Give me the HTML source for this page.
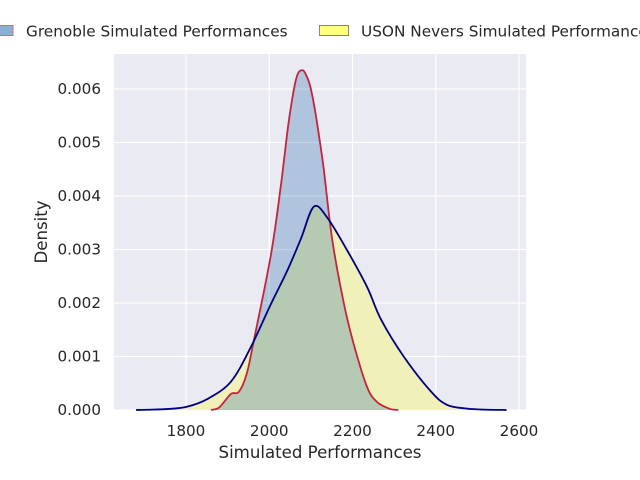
<!DOCTYPE html>
<html><head><meta charset="utf-8"><style>
html,body{margin:0;padding:0;background:#fff;overflow:hidden}
svg{display:block;font-family:"DejaVu Sans","Liberation Sans",sans-serif}
</style></head><body>
<svg id="chart" width="640" height="480">
<rect x="114" y="54" width="412" height="356" fill="#eaeaf2"/>
<g id="grid"></g>
<g id="series"></g>
<g id="ticks" fill="#262626" font-size="15.2"></g>
<text x="320" y="458" text-anchor="middle" font-size="16.6" fill="#262626">Simulated Performances</text>
<text transform="translate(47,232) rotate(-90)" text-anchor="middle" font-size="16.6" fill="#262626">Density</text>
<g>
<g>
<rect x="-16" y="25.5" width="29" height="10" fill="#8eaed6" stroke="#d9667a" stroke-width="1"/>
<text x="26" y="36.5" font-size="15.3" fill="#262626">Grenoble Simulated Performances</text></g>
<g>
<rect x="319.5" y="25.5" width="29" height="10" fill="#ffff80" stroke="#8080a0" stroke-width="1"/>
<text x="361" y="36.5" font-size="15.3" fill="#262626">USON Nevers Simulated Performances</text></g>
</g>
</svg>
<script>
const xTicks=[1800,2000,2200,2400,2600];
const yTicks=[0,0.001,0.002,0.003,0.004,0.005,0.006];
const yTickLabels=["0.000","0.001","0.002","0.003","0.004","0.005","0.006"];
const grenX=[1860,1880,1908,1927,1946,1963,2004,2028,2047,2065,2080,2092,2100,2110,2120,2131,2151,2179,2203,2235,2259,2290,2310];
const grenY=[0,0.00005,0.0003,0.00034,0.00068,0.0013,0.0029,0.0042,0.0054,0.0062,0.00635,0.0062,0.006,0.0056,0.0051,0.0045,0.0032,0.002,0.00123,0.00043,0.00015,0.00002,0];
const usonX=[1680,1706,1760,1802,1850,1908,1956,2004,2043,2076,2107,2139,2186,2235,2268,2323,2388,2426,2470,2508,2570];
const usonY=[0,0.000005,0.00002,0.00006,0.0002,0.00053,0.00118,0.00198,0.0026,0.0032,0.0038,0.0036,0.003,0.0023,0.0017,0.001,0.00035,0.0001,0.00003,0.00001,0];
const X=v=>186+(v-1800)*83.25/200;
const Y=v=>410-v*53.5/0.001;
const NS="http://www.w3.org/2000/svg";
const grid=document.getElementById('grid'),ticks=document.getElementById('ticks'),series=document.getElementById('series');
function mk(tag,attrs,parent){const e=document.createElementNS(NS,tag);for(const k in attrs)e.setAttribute(k,attrs[k]);parent.appendChild(e);return e;}
xTicks.forEach(t=>{
 const l=mk('line',{x1:X(t),x2:X(t),y1:54,y2:410,stroke:'#fff','stroke-width':1.2},grid);
 
 
 const tx=mk('text',{x:X(t),y:436,'text-anchor':'middle'},ticks);
 tx.textContent=t;
 
 
});
yTicks.forEach((t,i)=>{
 const l=mk('line',{x1:114,x2:526,y1:Y(t),y2:Y(t),stroke:'#fff','stroke-width':1.2},grid);
 
 
 const tx=mk('text',{x:101,y:Y(t)+5,'text-anchor':'end'},ticks);
 tx.textContent=yTickLabels[i];
 
 
});
function curve(xs,ys){
 const p=xs.map((x,i)=>[X(x),Y(ys[i])]);
 let d='M'+p[0][0]+','+p[0][1];
 for(let i=0;i<p.length-1;i++){
  const p0=p[i-1]||p[i],p1=p[i],p2=p[i+1],p3=p[i+2]||p2;
  const c1=[p1[0]+(p2[0]-p0[0])/6,Math.min(410,p1[1]+(p2[1]-p0[1])/6)];
  const c2=[p2[0]-(p3[0]-p1[0])/6,Math.min(410,p2[1]-(p3[1]-p1[1])/6)];
  d+=` C${c1[0]},${c1[1]} ${c2[0]},${c2[1]} ${p2[0]},${p2[1]}`;
 }
 return d;
}
const gd=curve(grenX,grenY), ud=curve(usonX,usonY);
const uf=mk('path',{d:ud+` L${X(usonX[usonX.length-1])},410 L${X(usonX[0])},410Z`,fill:'#f0f0b5','fill-opacity':0.95},series);


const gf=mk('path',{d:gd+` L${X(grenX[grenX.length-1])},410 L${X(grenX[0])},410Z`,fill:'#0252a2','fill-opacity':0.25},series);


const gl=mk('path',{d:gd,fill:'none',stroke:'#c4233b','stroke-width':1.8},series);


const ul=mk('path',{d:ud,fill:'none',stroke:'#000080','stroke-width':1.8},series);


</script>
</body></html>
